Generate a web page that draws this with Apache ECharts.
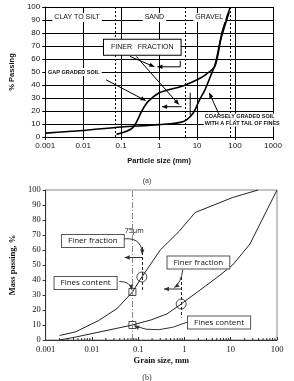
<!DOCTYPE html>
<html>
<head>
<meta charset="utf-8">
<script src="https://cdn.jsdelivr.net/npm/echarts@6/dist/echarts.min.js"></script>
<style>
html, body { margin: 0; padding: 0; background: #fff; }
#chart { width: 294px; height: 381px; }
</style>
</head>
<body>
<div id="chart"></div>
<script>
// (a) particle size distribution
var labelsA = ['0.001', '0.01', '0.1', '1', '10', '100', '1000'];
var gapSize = [0.075, 0.2, 0.35, 0.5, 1, 1.6, 4.4, 10, 17, 30, 45, 75];
var gapPass = [2, 7, 20, 27, 34, 36, 39.5, 44, 48, 55, 80, 100];
var coarseSize = [0.001, 0.01, 0.1, 1, 4.4, 7.9, 11.7, 16, 22, 30, 42, 70];
var coarsePass = [3, 5, 7.7, 9.5, 12, 18.5, 28.7, 36, 46, 56, 75, 96];
var boundsA = [0.075, 4.75, 75];

// (b) grain size curves
var labelsB = ['0.001', '0.01', '0.1', '1', '10', '100'];
var upperSize = [0.002, 0.0045, 0.014, 0.035, 0.075, 0.12, 0.3, 0.77, 1.7, 11, 39];
var upperPass = [3, 5.5, 13, 21, 32, 42, 60, 72.5, 85, 95, 100];
var lowerSize = [0.002, 0.0045, 0.075, 0.19, 0.42, 0.85, 5, 11, 26, 100];
var lowerPass = [0, 2, 10, 13.4, 17.4, 24, 41.6, 50, 64, 100];
var circlePts = [[0.12, 42], [0.85, 24]];
var squarePts = [[0.075, 32], [0.075, 10]];

function pairs(xs, ys) {
	return xs.map(function(x, i) { return [x, ys[i]]; });
}
function logLabel(list, offset) {
	return function(v) { return list[Math.round(Math.log10(v)) + offset] || ''; };
}

var chart = echarts.init(document.getElementById('chart'));
var sansA = 'Liberation Sans, Arial, sans-serif';
var serifB = 'Liberation Serif, Times New Roman, serif';
var boxFont = '8px Open Sans, Liberation Sans, sans-serif';

var option = {
	animation: false,
	title: [
		{ text: '(a)', left: 'center', top: 173, textStyle: { fontSize: 7, fontWeight: 'normal', fontFamily: sansA, color: '#333' } },
		{ text: '(b)', left: 'center', top: 369, textStyle: { fontSize: 8, fontWeight: 'normal', fontFamily: serifB, color: '#333' } }
	],
	grid: [
		{ left: 37, right: 21, top: 7, height: 130, show: false },
		{ left: 31, right: 17, top: 190, height: 150, show: true, borderColor: '#888', borderWidth: 1 }
	],
	xAxis: [
		{
			type: 'log', logBase: 10, gridIndex: 0, min: 0.001, max: 1000,
			name: 'Particle size (mm)', nameLocation: 'middle', nameGap: 20,
			nameTextStyle: { fontSize: 7.5, fontWeight: 'bold', fontFamily: sansA, color: '#111' },
			axisLine: { lineStyle: { color: '#000', width: 1 } },
			axisTick: { show: true, length: 3, lineStyle: { color: '#000' } },
			axisLabel: { fontSize: 8, fontFamily: sansA, color: '#111', margin: 5, formatter: logLabel(labelsA, 3) },
			splitLine: { show: true, lineStyle: { color: '#000', width: 1 } },
			minorTick: { show: false }
		},
		{
			type: 'log', logBase: 10, gridIndex: 1, min: 0.001, max: 100,
			name: 'Grain size, mm', nameLocation: 'middle', nameGap: 16,
			nameTextStyle: { fontSize: 8.5, fontWeight: 'bold', fontFamily: serifB, color: '#111' },
			axisLine: { lineStyle: { color: '#333', width: 1 } },
			axisTick: { show: true, inside: true, length: 3, lineStyle: { color: '#333' } },
			axisLabel: { fontSize: 8.5, fontFamily: serifB, color: '#111', margin: 5, formatter: logLabel(labelsB, 3) },
			splitLine: { show: false }
		}
	],
	yAxis: [
		{
			type: 'value', gridIndex: 0, min: 0, max: 100, interval: 10,
			name: '% Passing', nameLocation: 'middle', nameGap: 27,
			nameTextStyle: { fontSize: 7.5, fontWeight: 'bold', fontFamily: sansA, color: '#111' },
			axisLine: { show: true, lineStyle: { color: '#000' } },
			axisTick: { show: true, length: 3, lineStyle: { color: '#000' } },
			axisLabel: { fontSize: 8, fontFamily: sansA, color: '#111', margin: 5 },
			splitLine: { show: true, lineStyle: { color: '#000', width: 1 } }
		},
		{
			type: 'value', gridIndex: 1, min: 0, max: 100, interval: 10,
			name: 'Mass passing, %', nameLocation: 'middle', nameGap: 20,
			nameTextStyle: { fontSize: 8.5, fontWeight: 'bold', fontFamily: serifB, color: '#111' },
			axisLine: { show: true, lineStyle: { color: '#333' } },
			axisTick: { show: true, length: 3, lineStyle: { color: '#333' } },
			axisLabel: { fontSize: 8.5, fontFamily: serifB, color: '#111', margin: 5 },
			splitLine: { show: false }
		}
	],
	series: [
		{
			name: 'gap graded', type: 'line', xAxisIndex: 0, yAxisIndex: 0,
			data: pairs(gapSize, gapPass), showSymbol: false, smooth: 0.3,
			lineStyle: { color: '#000', width: 1.6 },
			markLine: {
				silent: true, symbol: 'none', label: { show: false },
				lineStyle: { color: '#000', type: [2, 2], width: 1 },
				data: boundsA.map(function(v) { return { xAxis: v }; })
			}
		},
		{
			name: 'coarsely graded', type: 'line', xAxisIndex: 0, yAxisIndex: 0,
			data: pairs(coarseSize, coarsePass), showSymbol: false, smooth: 0.3,
			lineStyle: { color: '#000', width: 1.6 }
		},
		{
			name: 'upper', type: 'line', xAxisIndex: 1, yAxisIndex: 1,
			data: pairs(upperSize, upperPass), showSymbol: false,
			lineStyle: { color: '#222', width: 1 },
			markLine: {
				silent: true, symbol: 'none', label: { show: false },
				data: [
					[{ coord: [0.075, 0], lineStyle: { color: '#888', type: [6, 2, 1, 2], width: 1 } }, { coord: [0.075, 100] }],
					[{ coord: [0.125, 62], lineStyle: { color: '#222', type: [3, 2], width: 1 } }, { coord: [0.125, 33] }],
					[{ coord: [0.85, 42], lineStyle: { color: '#222', type: [3, 2], width: 1 } }, { coord: [0.85, 15] }]
				]
			}
		},
		{
			name: 'lower', type: 'line', xAxisIndex: 1, yAxisIndex: 1,
			data: pairs(lowerSize, lowerPass), showSymbol: false,
			lineStyle: { color: '#222', width: 1 }
		},
		{
			name: 'circles', type: 'scatter', xAxisIndex: 1, yAxisIndex: 1,
			data: circlePts, symbol: 'circle', symbolSize: 10, z: 5,
			itemStyle: { color: 'transparent', borderColor: '#222', borderWidth: 1 }
		},
		{
			name: 'squares', type: 'scatter', xAxisIndex: 1, yAxisIndex: 1,
			data: squarePts, symbol: 'rect', symbolSize: 7, z: 5,
			itemStyle: { color: 'transparent', borderColor: '#222', borderWidth: 1 }
		}
	]
};
chart.setOption(option);

// annotations, anchored in data space and converted to pixels
function px(g, p) { return chart.convertToPixel({ gridIndex: g }, p); }

function head(from, to, color) {
	var ang = Math.atan2(to[1] - from[1], to[0] - from[0]);
	var L = 5, W = 2.2;
	var c = Math.cos(ang), s = Math.sin(ang);
	return {
		type: 'polygon', z: 120,
		shape: { points: [to, [to[0] - L * c + W * s, to[1] - L * s - W * c], [to[0] - L * c - W * s, to[1] - L * s + W * c]] },
		style: { fill: color }
	};
}
function arrow(g, a, b, color, width) {
	var p = px(g, a), q = px(g, b);
	return [
		{ type: 'line', z: 110, shape: { x1: p[0], y1: p[1], x2: q[0], y2: q[1] }, style: { stroke: color, lineWidth: width || 1 } },
		head(p, q, color)
	];
}
function line(g, a, b, color, width) {
	var p = px(g, a), q = px(g, b);
	return { type: 'line', z: 110, shape: { x1: p[0], y1: p[1], x2: q[0], y2: q[1] }, style: { stroke: color, lineWidth: width || 1 } };
}
function curve(g, a, c, b, color) {
	var p = px(g, a), k = px(g, c), q = px(g, b);
	return [
		{ type: 'bezierCurve', z: 110, shape: { x1: p[0], y1: p[1], cpx1: k[0], cpy1: k[1], x2: q[0], y2: q[1] }, style: { stroke: color, lineWidth: 1, fill: null } },
		head(k, q, color)
	];
}
function label(g, at, text, font, opts) {
	var p = px(g, at);
	var st = { text: text, x: p[0], y: p[1], font: font, fill: '#111', align: 'center', verticalAlign: 'middle', backgroundColor: '#fff', padding: [1, 2] };
	for (var k in opts) st[k] = opts[k];
	return { type: 'text', z: 130, style: st };
}

var zoneFont = '7px ' + sansA;
var smallFont = 'bold 5.5px ' + sansA;
var els = [];
els.push(label(0, [0.0069, 92], 'CLAY TO SILT', zoneFont));
els.push(label(0, [0.75, 92], 'SAND', zoneFont));
els.push(label(0, [21, 92], 'GRAVEL', zoneFont));
els.push(label(0, [0.36, 69], 'FINER   FRACTION', '7px ' + sansA, { padding: [4, 7], borderColor: '#000', borderWidth: 1 }));
els = els.concat(arrow(0, [0.17, 62], [0.75, 54], '#000'));
els = els.concat(arrow(0, [0.25, 62], [3.3, 25], '#000'));
els.push(line(0, [3.6, 58.6], [3.6, 54], '#000'));
els = els.concat(arrow(0, [3.6, 54], [0.9, 54], '#000'));
els.push(line(0, [6.6, 34], [6.6, 17], '#000'));
els = els.concat(arrow(0, [3.9, 23.3], [1.2, 23.3], '#000'));
els.push(label(0, [0.00105, 50], 'GAP GRADED SOIL', smallFont, { align: 'left' }));
els = els.concat(arrow(0, [0.04, 44], [0.44, 28], '#000'));
els.push(label(0, [15, 15.6], 'COARSELY GRADED SOIL', smallFont, { align: 'left', padding: [0, 1] }));
els.push(label(0, [15, 10.3], 'WITH A FLAT TAIL OF FINES', smallFont, { align: 'left', padding: [0, 1] }));
els = els.concat(arrow(0, [38, 17.2], [21, 34], '#000'));

var lineB = '#333';
els.push(label(1, [0.0105, 66], 'Finer fraction', boxFont, { padding: [2, 6], borderColor: '#555', borderWidth: 1 }));
els.push(label(1, [2.0, 51.7], 'Finer fraction', boxFont, { padding: [2, 6], borderColor: '#555', borderWidth: 1 }));
els.push(label(1, [0.0073, 38], 'Fines content', boxFont, { padding: [2, 6], borderColor: '#555', borderWidth: 1 }));
els.push(label(1, [5.6, 11.7], 'Fines content', boxFont, { padding: [2, 6], borderColor: '#555', borderWidth: 1 }));
els.push(label(1, [0.082, 72.5], '75μm', '7px Open Sans, sans-serif', { rotation: Math.PI / 2, backgroundColor: 'transparent', padding: 0 }));
els = els.concat(arrow(1, [0.125, 55], [0.051, 55], lineB));
els = els.concat(arrow(1, [0.85, 34], [0.36, 34], lineB));
els = els.concat(curve(1, [0.039, 67], [0.12, 70], [0.123, 57], lineB));
els = els.concat(curve(1, [0.92, 47], [0.85, 38], [0.6, 35], lineB));
els = els.concat(curve(1, [0.039, 39], [0.07, 39], [0.072, 33.5], lineB));
els = els.concat(curve(1, [1.17, 12], [0.25, 3], [0.082, 9.5], lineB));

// minor ticks on the (b) log axis: 2..9 within each decade
for (var d = -3; d < 2; d++) {
	for (var m = 2; m <= 9; m++) {
		var t = px(1, [m * Math.pow(10, d), 0]);
		els.push({ type: 'line', z: 110, shape: { x1: t[0], y1: t[1], x2: t[0], y2: t[1] - 2 }, style: { stroke: '#333', lineWidth: 1 } });
	}
}

chart.setOption({ graphic: { elements: els } });
</script>
</body>
</html>
